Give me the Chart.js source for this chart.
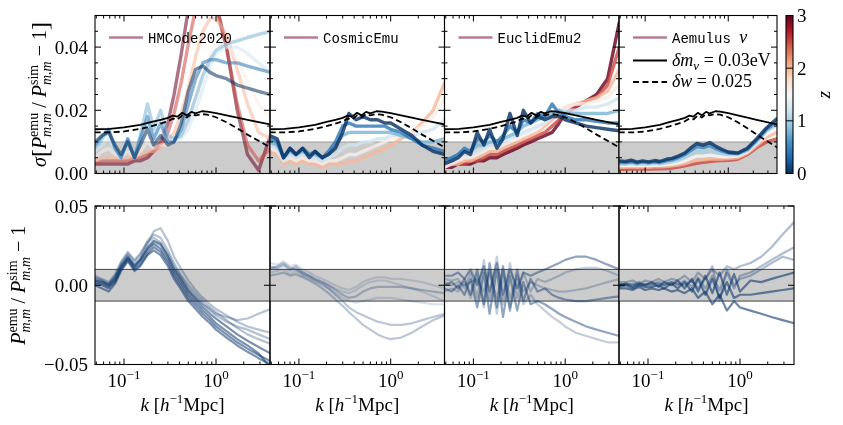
<!DOCTYPE html>
<html>
<head>
<meta charset="utf-8">
<script src="https://cdn.jsdelivr.net/npm/chart.js@4.4.0/dist/chart.umd.min.js"></script>
<style>
  body { margin: 0; background: #fff; }
  #wrap { position: relative; width: 843px; height: 425px; }
  #wrap canvas { position: absolute; left: 0; top: 0; }
</style>
</head>
<body>
<div id="wrap"></div>
<script>
// k grid shared by the emulator curves, and the grid of the two reference curves
const kGrid = [0.048, 0.058, 0.068, 0.08, 0.093, 0.11, 0.13, 0.15, 0.18, 0.21, 0.25, 0.3, 0.35, 0.42, 0.5, 0.6, 0.72, 0.86, 1.0, 1.3, 1.7, 2.2, 2.9, 3.9];
const kRef = [0.048, 0.07, 0.1, 0.15, 0.2, 0.25, 0.3, 0.34, 0.38, 0.43, 0.48, 0.54, 0.6, 0.7, 0.8, 1.0, 1.3, 1.7, 2.2, 3.0, 3.9];

// reference curves: delta m_nu = 0.03 eV (solid) and delta w = 0.025 (dashed)
const sigmaMnu = [0.0140, 0.0141, 0.0146, 0.0154, 0.0163, 0.0170, 0.0176, 0.0183, 0.0180, 0.0192, 0.0184, 0.0195, 0.0190, 0.0197, 0.0196, 0.0191, 0.0184, 0.0177, 0.0170, 0.0162, 0.0155];
const sigmaW = [0.0130, 0.0130, 0.0133, 0.0141, 0.0150, 0.0158, 0.0165, 0.0174, 0.0171, 0.0184, 0.0177, 0.0188, 0.0184, 0.0188, 0.0186, 0.0178, 0.0162, 0.0143, 0.0123, 0.0101, 0.0082];

// top row: sigma of the emulator error, one curve per redshift
const zHMCode = [0, 0.4, 0.8, 1.2, 1.6, 2.0, 2.5, 3.0];
const sigmaHMCode = [
  [0.010, 0.012, 0.013, 0.009, 0.006, 0.010, 0.005, 0.009, 0.014, 0.009, 0.012, 0.009, 0.010, 0.016, 0.026, 0.033, 0.034, 0.032, 0.031, 0.030, 0.028, 0.027, 0.026, 0.025],
  [0.009, 0.012, 0.014, 0.008, 0.005, 0.011, 0.005, 0.011, 0.018, 0.011, 0.016, 0.010, 0.010, 0.014, 0.022, 0.030, 0.035, 0.036, 0.036, 0.035, 0.035, 0.034, 0.033, 0.032],
  [0.008, 0.011, 0.014, 0.008, 0.005, 0.011, 0.005, 0.012, 0.022, 0.014, 0.020, 0.012, 0.011, 0.012, 0.017, 0.024, 0.031, 0.036, 0.039, 0.041, 0.042, 0.043, 0.044, 0.045],
  [0.007, 0.009, 0.011, 0.007, 0.005, 0.009, 0.005, 0.010, 0.016, 0.011, 0.014, 0.010, 0.010, 0.011, 0.014, 0.020, 0.027, 0.034, 0.038, 0.040, 0.040, 0.038, 0.035, 0.032],
  [0.005, 0.007, 0.008, 0.006, 0.005, 0.007, 0.005, 0.007, 0.010, 0.008, 0.009, 0.009, 0.010, 0.012, 0.017, 0.024, 0.032, 0.038, 0.041, 0.041, 0.036, 0.029, 0.022, 0.018],
  [0.004, 0.005, 0.005, 0.005, 0.005, 0.005, 0.005, 0.006, 0.007, 0.007, 0.008, 0.010, 0.013, 0.019, 0.027, 0.037, 0.045, 0.049, 0.049, 0.044, 0.033, 0.022, 0.013, 0.011],
  [0.003, 0.004, 0.004, 0.004, 0.004, 0.004, 0.005, 0.005, 0.006, 0.007, 0.009, 0.013, 0.019, 0.029, 0.041, 0.052, 0.057, 0.056, 0.052, 0.040, 0.022, 0.009, 0.004, 0.008],
  [0.003, 0.003, 0.003, 0.003, 0.003, 0.003, 0.004, 0.004, 0.005, 0.007, 0.010, 0.016, 0.025, 0.038, 0.052, 0.062, 0.064, 0.060, 0.054, 0.040, 0.020, 0.006, 0.001, 0.012]
];
const zCosmicEmu = [0, 0.4, 0.8, 1.2, 1.6, 2.0];
const sigmaCosmicEmu = [
  [0.012, 0.011, 0.005, 0.008, 0.006, 0.008, 0.005, 0.007, 0.005, 0.006, 0.008, 0.013, 0.019, 0.017, 0.018, 0.017, 0.017, 0.016, 0.016, 0.014, 0.012, 0.009, 0.007, 0.006],
  [0.011, 0.010, 0.005, 0.008, 0.006, 0.008, 0.006, 0.007, 0.005, 0.007, 0.010, 0.015, 0.016, 0.015, 0.015, 0.015, 0.015, 0.015, 0.014, 0.013, 0.011, 0.009, 0.008, 0.007],
  [0.010, 0.009, 0.005, 0.007, 0.006, 0.007, 0.006, 0.006, 0.005, 0.006, 0.009, 0.012, 0.013, 0.013, 0.013, 0.013, 0.013, 0.013, 0.013, 0.012, 0.011, 0.010, 0.010, 0.011],
  [0.009, 0.008, 0.004, 0.006, 0.005, 0.006, 0.005, 0.005, 0.004, 0.005, 0.006, 0.008, 0.009, 0.009, 0.010, 0.010, 0.011, 0.011, 0.012, 0.012, 0.012, 0.013, 0.014, 0.017],
  [0.008, 0.007, 0.004, 0.005, 0.004, 0.005, 0.004, 0.004, 0.003, 0.004, 0.004, 0.005, 0.006, 0.006, 0.007, 0.008, 0.009, 0.010, 0.011, 0.012, 0.013, 0.015, 0.018, 0.024],
  [0.007, 0.006, 0.003, 0.004, 0.003, 0.004, 0.003, 0.003, 0.002, 0.003, 0.003, 0.003, 0.004, 0.004, 0.005, 0.006, 0.007, 0.008, 0.009, 0.011, 0.013, 0.016, 0.020, 0.029]
];
const zEuclidEmu2 = [0, 0.4, 0.8, 1.2, 1.6, 2.0, 2.5, 3.0];
const sigmaEuclidEmu2 = [
  [0.003, 0.004, 0.005, 0.007, 0.006, 0.013, 0.009, 0.014, 0.008, 0.011, 0.019, 0.012, 0.020, 0.016, 0.018, 0.017, 0.018, 0.018, 0.017, 0.016, 0.015, 0.0145, 0.014, 0.0135],
  [0.004, 0.005, 0.006, 0.008, 0.007, 0.011, 0.010, 0.012, 0.010, 0.012, 0.015, 0.013, 0.017, 0.016, 0.019, 0.018, 0.022, 0.019, 0.018, 0.017, 0.017, 0.0165, 0.016, 0.016],
  [0.004, 0.005, 0.006, 0.007, 0.007, 0.009, 0.009, 0.010, 0.010, 0.011, 0.012, 0.013, 0.015, 0.016, 0.017, 0.018, 0.019, 0.020, 0.019, 0.019, 0.019, 0.019, 0.019, 0.020],
  [0.003, 0.004, 0.005, 0.006, 0.006, 0.007, 0.008, 0.009, 0.009, 0.010, 0.011, 0.012, 0.013, 0.014, 0.015, 0.016, 0.018, 0.019, 0.020, 0.020, 0.021, 0.021, 0.022, 0.024],
  [0.002, 0.003, 0.004, 0.005, 0.005, 0.006, 0.007, 0.008, 0.008, 0.009, 0.010, 0.011, 0.012, 0.013, 0.014, 0.016, 0.018, 0.020, 0.021, 0.022, 0.022, 0.023, 0.024, 0.028],
  [0.002, 0.003, 0.003, 0.004, 0.004, 0.005, 0.006, 0.007, 0.007, 0.008, 0.009, 0.010, 0.011, 0.012, 0.013, 0.015, 0.017, 0.019, 0.021, 0.022, 0.023, 0.024, 0.026, 0.033],
  [0.002, 0.003, 0.003, 0.003, 0.004, 0.004, 0.005, 0.006, 0.006, 0.007, 0.008, 0.009, 0.010, 0.011, 0.012, 0.013, 0.015, 0.017, 0.019, 0.021, 0.023, 0.024, 0.028, 0.040],
  [0.002, 0.002, 0.003, 0.003, 0.003, 0.004, 0.004, 0.005, 0.005, 0.006, 0.007, 0.008, 0.009, 0.010, 0.011, 0.012, 0.013, 0.016, 0.019, 0.021, 0.023, 0.025, 0.030, 0.048]
];
const zAemulus = [0, 0.5, 1.0, 1.5, 2.0, 2.5];
const sigmaAemulus = [
  [0.0040, 0.0038, 0.0042, 0.0036, 0.0040, 0.0037, 0.0041, 0.0038, 0.0045, 0.0048, 0.0055, 0.0065, 0.0080, 0.0095, 0.0090, 0.0098, 0.0085, 0.0075, 0.0068, 0.0065, 0.0080, 0.0110, 0.0145, 0.0175],
  [0.0035, 0.0034, 0.0037, 0.0033, 0.0036, 0.0034, 0.0037, 0.0035, 0.0040, 0.0043, 0.0050, 0.0060, 0.0072, 0.0085, 0.0082, 0.0088, 0.0078, 0.0070, 0.0065, 0.0063, 0.0076, 0.0105, 0.0140, 0.0165],
  [0.0030, 0.0030, 0.0032, 0.0029, 0.0031, 0.0030, 0.0032, 0.0031, 0.0034, 0.0037, 0.0042, 0.0050, 0.0060, 0.0070, 0.0068, 0.0072, 0.0066, 0.0062, 0.0060, 0.0060, 0.0072, 0.0100, 0.0135, 0.0155],
  [0.0025, 0.0025, 0.0026, 0.0025, 0.0026, 0.0025, 0.0026, 0.0026, 0.0028, 0.0030, 0.0034, 0.0040, 0.0048, 0.0055, 0.0055, 0.0058, 0.0055, 0.0053, 0.0053, 0.0055, 0.0068, 0.0095, 0.0125, 0.0145],
  [0.0020, 0.0020, 0.0021, 0.0020, 0.0021, 0.0020, 0.0021, 0.0021, 0.0022, 0.0024, 0.0027, 0.0031, 0.0036, 0.0042, 0.0043, 0.0046, 0.0046, 0.0046, 0.0047, 0.0050, 0.0064, 0.0088, 0.0115, 0.0130],
  [0.0013, 0.0013, 0.0014, 0.0014, 0.0014, 0.0014, 0.0015, 0.0015, 0.0016, 0.0017, 0.0020, 0.0024, 0.0028, 0.0032, 0.0035, 0.0038, 0.0040, 0.0041, 0.0042, 0.0045, 0.0060, 0.0082, 0.0100, 0.0110]
];

// bottom row: individual residuals P_emu / P_sim - 1
const residHMCode = [
  [0.003, 0.002, 0.000, 0.004, 0.012, 0.018, 0.012, 0.016, 0.024, 0.028, 0.026, 0.018, 0.010, 0.003, -0.004, -0.009, -0.014, -0.018, -0.021, -0.026, -0.031, -0.035, -0.039, -0.043],
  [0.005, 0.003, 0.001, 0.006, 0.014, 0.020, 0.015, 0.019, 0.028, 0.032, 0.030, 0.022, 0.014, 0.006, 0.000, -0.005, -0.010, -0.014, -0.017, -0.022, -0.027, -0.031, -0.034, -0.037],
  [0.001, 0.000, -0.002, 0.002, 0.010, 0.016, 0.010, 0.013, 0.020, 0.024, 0.021, 0.014, 0.006, -0.001, -0.008, -0.013, -0.018, -0.022, -0.026, -0.031, -0.036, -0.040, -0.044, -0.048],
  [0.004, 0.003, 0.000, 0.005, 0.013, 0.019, 0.013, 0.017, 0.026, 0.034, 0.036, 0.028, 0.018, 0.010, 0.003, -0.003, -0.008, -0.012, -0.015, -0.019, -0.023, -0.026, -0.028, -0.030],
  [0.002, 0.001, -0.001, 0.003, 0.011, 0.017, 0.011, 0.015, 0.022, 0.026, 0.023, 0.016, 0.008, 0.001, -0.006, -0.011, -0.016, -0.020, -0.024, -0.029, -0.034, -0.038, -0.043, -0.052],
  [0.006, 0.004, 0.002, 0.007, 0.015, 0.021, 0.016, 0.020, 0.027, 0.030, 0.027, 0.020, 0.012, 0.005, -0.002, -0.007, -0.012, -0.016, -0.019, -0.023, -0.026, -0.028, -0.031, -0.034],
  [0.000, -0.002, -0.004, 0.001, 0.009, 0.015, 0.009, 0.012, 0.019, 0.022, 0.019, 0.012, 0.004, -0.003, -0.010, -0.015, -0.020, -0.024, -0.028, -0.033, -0.038, -0.042, -0.046, -0.050],
  [0.003, 0.002, 0.001, 0.005, 0.012, 0.017, 0.013, 0.016, 0.023, 0.027, 0.025, 0.019, 0.011, 0.004, -0.003, -0.008, -0.012, -0.015, -0.018, -0.020, -0.022, -0.021, -0.018, -0.015]
];
const residCosmicEmu = [
  [0.012, 0.011, 0.013, 0.010, 0.012, 0.008, 0.006, 0.004, 0.002, 0.000, -0.003, -0.006, -0.008, -0.007, -0.004, -0.002, -0.001, -0.001, -0.001, -0.001, -0.002, -0.003, -0.004, -0.005],
  [0.008, 0.009, 0.010, 0.007, 0.009, 0.006, 0.004, 0.002, 0.000, -0.002, -0.005, -0.008, -0.010, -0.011, -0.010, -0.009, -0.008, -0.008, -0.008, -0.009, -0.010, -0.011, -0.012, -0.012],
  [0.010, 0.012, 0.014, 0.011, 0.010, 0.007, 0.005, 0.003, 0.001, -0.002, -0.006, -0.010, -0.014, -0.017, -0.019, -0.021, -0.023, -0.024, -0.025, -0.025, -0.024, -0.022, -0.020, -0.018],
  [0.014, 0.013, 0.015, 0.012, 0.013, 0.010, 0.008, 0.006, 0.004, 0.002, 0.000, -0.002, -0.003, -0.001, 0.002, 0.004, 0.005, 0.005, 0.004, 0.004, 0.003, 0.002, 0.000, -0.002],
  [0.006, 0.007, 0.008, 0.006, 0.007, 0.005, 0.003, 0.001, -0.002, -0.005, -0.009, -0.013, -0.017, -0.021, -0.025, -0.028, -0.031, -0.033, -0.034, -0.033, -0.030, -0.026, -0.022, -0.019],
  [0.011, 0.010, 0.012, 0.009, 0.011, 0.008, 0.006, 0.004, 0.002, 0.000, -0.002, -0.004, -0.005, -0.003, 0.000, 0.002, 0.003, 0.003, 0.002, 0.000, -0.002, -0.004, -0.007, -0.010]
];
const residEuclidEmu2 = [
  [0.000, 0.002, -0.002, 0.004, -0.006, 0.010, -0.012, 0.014, -0.014, 0.012, -0.016, 0.010, -0.010, 0.004, -0.004, -0.002, -0.006, -0.008, -0.009, -0.010, -0.010, -0.009, -0.008, -0.007],
  [0.004, 0.003, 0.004, -0.002, 0.008, -0.008, 0.016, -0.010, 0.018, -0.012, 0.014, -0.008, 0.008, -0.004, 0.004, 0.002, 0.004, 0.006, 0.008, 0.010, 0.011, 0.011, 0.009, 0.006],
  [-0.002, -0.004, 0.000, -0.006, 0.004, -0.014, 0.008, -0.018, 0.010, -0.020, 0.006, -0.016, 0.002, -0.012, -0.010, -0.012, -0.015, -0.018, -0.020, -0.023, -0.026, -0.028, -0.030, -0.032],
  [0.002, 0.000, 0.002, 0.000, 0.002, 0.004, -0.004, 0.008, -0.008, 0.010, -0.008, 0.006, -0.004, 0.002, 0.000, -0.002, -0.003, -0.004, -0.004, -0.003, -0.002, 0.000, 0.002, 0.004],
  [0.006, 0.006, 0.008, 0.004, 0.010, 0.000, 0.012, -0.004, 0.014, -0.006, 0.010, -0.002, 0.008, 0.006, 0.008, 0.010, 0.012, 0.014, 0.016, 0.018, 0.018, 0.016, 0.013, 0.010],
  [-0.004, -0.002, -0.004, 0.002, -0.008, 0.006, -0.014, 0.010, -0.018, 0.006, -0.014, 0.004, -0.012, -0.006, -0.012, -0.016, -0.020, -0.023, -0.026, -0.030, -0.032, -0.034, -0.036, -0.036]
];
const residAemulus = [
  [0.000, 0.001, -0.001, 0.001, 0.000, 0.002, -0.001, 0.002, 0.000, 0.003, -0.002, 0.004, -0.004, 0.006, -0.005, 0.008, -0.006, 0.007, -0.004, 0.003, 0.002, 0.004, 0.006, 0.008],
  [0.002, 0.002, 0.003, 0.001, 0.003, 0.002, 0.004, 0.002, 0.004, 0.003, 0.006, 0.002, 0.008, 0.004, 0.010, 0.006, 0.012, 0.010, 0.012, 0.014, 0.018, 0.024, 0.032, 0.040],
  [-0.002, -0.002, -0.003, -0.001, -0.003, -0.002, -0.003, -0.002, -0.004, -0.003, -0.005, -0.002, -0.008, -0.004, -0.012, -0.006, -0.016, -0.010, -0.014, -0.016, -0.018, -0.020, -0.022, -0.024],
  [0.001, 0.000, 0.001, 0.000, 0.001, 0.000, 0.002, 0.000, 0.002, 0.000, 0.003, -0.001, 0.005, -0.002, 0.006, -0.003, 0.008, -0.002, 0.006, 0.008, 0.012, 0.016, 0.020, 0.024],
  [-0.001, 0.000, -0.002, 0.000, -0.001, -0.001, 0.000, -0.002, 0.001, -0.002, 0.002, -0.004, 0.004, -0.006, 0.004, -0.008, 0.002, -0.008, -0.006, -0.006, -0.005, -0.004, -0.003, -0.002],
  [0.000, 0.001, 0.000, 0.002, 0.000, 0.001, 0.001, 0.000, 0.002, 0.001, 0.000, 0.003, -0.002, 0.004, 0.012, -0.010, 0.010, 0.000, 0.004, 0.006, 0.010, 0.014, 0.018, 0.016]
];

// ticks
const kMin = 0.0484, kMax = 3.86;
const xMajor = [0.1, 1];
const xMajorExp = ['−1', '0'];
const xMinor = [0.05, 0.06, 0.07, 0.08, 0.09, 0.2, 0.3, 0.4, 0.5, 0.6, 0.7, 0.8, 0.9, 2, 3];
const sigmaMajor = [0, 0.02, 0.04];
const sigmaLabels = ['0.00', '0.02', '0.04'];
const sigmaMinor = [0.005, 0.01, 0.015, 0.025, 0.03, 0.035, 0.045];
const residMajor = [-0.05, 0, 0.05];
const residLabels = ['−0.05', '0.00', '0.05'];
const zTicks = [0, 1, 2, 3];

const W = 843, H = 425;
const wrap = document.getElementById('wrap');
const SERIF = '"Liberation Serif", "Times New Roman", serif';
const MONO = '"Liberation Mono", "Courier New", monospace';
const rm = s => s + 'px ' + SERIF;
const it = s => 'italic ' + s + 'px ' + SERIF;
const tt = s => s + 'px ' + MONO;

// RdBu_r
const RDBU_R = [[5,48,97],[33,102,172],[67,147,195],[146,197,222],[209,229,240],[247,247,247],[253,219,199],[244,165,130],[214,96,77],[178,24,43],[103,0,31]];
function cmap(t, a) {
  t = Math.max(0, Math.min(1, t)) * 10;
  const i = Math.min(9, Math.floor(t)), f = t - i;
  const c = RDBU_R[i].map((v, j) => Math.round(v + (RDBU_R[i + 1][j] - v) * f));
  return 'rgba(' + c[0] + ',' + c[1] + ',' + c[2] + ',' + a + ')';
}

// text made of pieces (for super/subscripts)
function partWidth(ctx, p) {
  ctx.font = p.f;
  if (p.sup !== undefined) {
    const w1 = ctx.measureText(p.sup).width;
    ctx.font = p.fs || p.f;
    return Math.max(w1, ctx.measureText(p.sub).width);
  }
  return ctx.measureText(p.t).width;
}
function drawRich(ctx, parts, x, y, align) {
  const ws = parts.map(p => partWidth(ctx, p));
  const total = ws.reduce((s, v) => s + v, 0);
  let cx = align === 'center' ? x - total / 2 : align === 'right' ? x - total : x;
  ctx.textAlign = 'left';
  ctx.textBaseline = 'alphabetic';
  parts.forEach((p, i) => {
    ctx.font = p.f;
    if (p.sup !== undefined) {
      ctx.fillText(p.sup, cx, y - 8);
      ctx.font = p.fs || p.f;
      ctx.fillText(p.sub, cx, y + 5);
    } else {
      ctx.fillText(p.t, cx, y + (p.dy || 0));
    }
    cx += ws[i];
  });
}

const kLabel = [{t: 'k', f: it(19)}, {t: ' [', f: rm(19)}, {t: 'h', f: it(19)}, {t: '−1', f: rm(13), dy: -8}, {t: 'Mpc]', f: rm(19)}];
const sigmaTitle = [{t: 'σ', f: it(20)}, {t: '[', f: rm(24), dy: 2}, {t: 'P', f: it(20)}, {sup: 'emu', sub: 'm,m', f: rm(14), fs: it(14)},
  {t: ' / ', f: rm(20)}, {t: 'P', f: it(20)}, {sup: 'sim', sub: 'm,m', f: rm(14), fs: it(14)}, {t: ' − 1', f: rm(20)}, {t: ']', f: rm(24), dy: 2}];
const residTitle = [{t: 'P', f: it(20)}, {sup: 'emu', sub: 'm,m', f: rm(14), fs: it(14)},
  {t: ' / ', f: rm(20)}, {t: 'P', f: it(20)}, {sup: 'sim', sub: 'm,m', f: rm(14), fs: it(14)}, {t: ' − 1', f: rm(20)}];

const framePlugin = {
  id: 'frame',
  beforeDatasetsDraw(chart, args, o) {
    if (!o.band) return;
    const {ctx, chartArea: a} = chart;
    const y = chart.scales.y;
    const yt = y.getPixelForValue(o.band[1]), yb = y.getPixelForValue(o.band[0]);
    ctx.save();
    ctx.fillStyle = '#cccccc';
    ctx.fillRect(a.left, yt, a.right - a.left, yb - yt);
    ctx.strokeStyle = o.bandEdge;
    ctx.lineWidth = 1;
    ctx.beginPath();
    [yt, yb].forEach(p => {
      if (p > a.top + 1 && p < a.bottom - 1) { ctx.moveTo(a.left, p); ctx.lineTo(a.right, p); }
    });
    ctx.stroke();
    ctx.restore();
  },
  afterDatasetsDraw(chart, args, o) {
    const {ctx, chartArea: a} = chart;
    const x = chart.scales.x, y = chart.scales.y;
    ctx.save();
    ctx.strokeStyle = '#000';
    ctx.lineWidth = 1;
    ctx.beginPath();
    const tickX = (v, len) => {
      const p = x.getPixelForValue(v);
      ctx.moveTo(p, a.bottom); ctx.lineTo(p, a.bottom - len);
      ctx.moveTo(p, a.top); ctx.lineTo(p, a.top + len);
    };
    const tickY = (v, len) => {
      const p = y.getPixelForValue(v);
      ctx.moveTo(a.left, p); ctx.lineTo(a.left + len, p);
      ctx.moveTo(a.right, p); ctx.lineTo(a.right - len, p);
    };
    xMajor.forEach(v => tickX(v, 6));
    xMinor.forEach(v => tickX(v, 3));
    o.yMajor.forEach(v => tickY(v, 6));
    (o.yMinor || []).forEach(v => tickY(v, 3));
    ctx.stroke();
    ctx.lineWidth = 1.1;
    ctx.strokeRect(a.left, a.top, a.right - a.left, a.bottom - a.top);

    ctx.fillStyle = '#000';
    if (o.xLabels) {
      xMajor.forEach((v, i) => drawRich(ctx, [{t: '10', f: rm(19)}, {t: xMajorExp[i], f: rm(13), dy: -8}], x.getPixelForValue(v), 387, 'center'));
      drawRich(ctx, kLabel, (a.left + a.right) / 2, 411, 'center');
    }
    if (o.yLabels) {
      o.yMajor.forEach((v, i) => drawRich(ctx, [{t: o.yLabels[i], f: rm(19)}], a.left - 7, y.getPixelForValue(v) + 6.5, 'right'));
    }
    if (o.yTitle) {
      ctx.save();
      ctx.translate(o.yTitle.x, (a.top + a.bottom) / 2);
      ctx.rotate(-Math.PI / 2);
      drawRich(ctx, o.yTitle.parts, 0, 0, 'center');
      ctx.restore();
    }
    if (o.legend) {
      o.legend.forEach((item, i) => {
        const lx = a.left + 14, ly = o.legendY[i];
        ctx.beginPath();
        ctx.strokeStyle = item.color;
        ctx.lineWidth = item.width;
        ctx.setLineDash(item.dash || []);
        ctx.moveTo(lx, ly); ctx.lineTo(lx + 34, ly);
        ctx.stroke();
        ctx.setLineDash([]);
        drawRich(ctx, item.parts, lx + 39, ly + 5, 'left');
      });
    }
    ctx.restore();
  }
};

function newCanvas() {
  const c = document.createElement('canvas');
  c.width = W; c.height = H;
  c.style.width = W + 'px'; c.style.height = H + 'px';
  wrap.appendChild(c);
  return c;
}

function curve(xs, ys, color, width, dash) {
  return {
    data: xs.map((x, i) => ({x: x, y: ys[i]})),
    borderColor: color, borderWidth: width, borderDash: dash || [],
    pointRadius: 0, fill: false, tension: 0, clip: 0, borderJoinStyle: 'round'
  };
}

function makePanel(rect, datasets, yRange, opts) {
  return new Chart(newCanvas(), {
    type: 'line',
    data: {datasets: datasets},
    options: {
      responsive: false, animation: false, events: [],
      layout: {padding: {left: rect[0], top: rect[1], right: W - rect[2], bottom: H - rect[3]}},
      scales: {
        x: {type: 'logarithmic', min: kMin, max: kMax, display: false},
        y: {type: 'linear', min: yRange[0], max: yRange[1], display: false}
      },
      plugins: {legend: {display: false}, tooltip: {enabled: false}, frame: opts}
    },
    plugins: [framePlugin]
  });
}

const topRects = [[95, 15.5, 270, 173.5], [270, 15.5, 444.5, 173.5], [444.5, 15.5, 619, 173.5], [619, 15.5, 777, 173.5]];
const botRects = [[95, 206, 270, 364.5], [270, 206, 444.5, 364.5], [444.5, 206, 619, 364.5], [619, 206, 794, 364.5]];

const modelColor = 'rgba(103,0,31,0.5)';
const nameFont = tt(14);
const legendSets = [
  [{color: modelColor, width: 2.5, parts: [{t: 'HMCode2020', f: nameFont}]}],
  [{color: modelColor, width: 2.5, parts: [{t: 'CosmicEmu', f: nameFont}]}],
  [{color: modelColor, width: 2.5, parts: [{t: 'EuclidEmu2', f: nameFont}]}],
  [{color: modelColor, width: 2.5, parts: [{t: 'Aemulus ', f: nameFont}, {t: 'ν', f: it(18)}]},
   {color: '#000', width: 1.8, parts: [{t: 'δm', f: it(18)}, {t: 'ν', f: it(13), dy: 4}, {t: ' = 0.03eV', f: rm(18)}]},
   {color: '#000', width: 1.8, dash: [6, 3.5], parts: [{t: 'δw', f: it(18)}, {t: ' = 0.025', f: rm(18)}]}]
];

const topZ = [zHMCode, zCosmicEmu, zEuclidEmu2, zAemulus];
const topSigma = [sigmaHMCode, sigmaCosmicEmu, sigmaEuclidEmu2, sigmaAemulus];
const topAlpha = [0.55, 0.8, 0.8, 0.8];
const botResid = [residHMCode, residCosmicEmu, residEuclidEmu2, residAemulus];
const residAlpha = [0.55, 0.28, 0.45, 0.6];

topRects.forEach((r, p) => {
  const sets = [curve(kRef, sigmaMnu, '#000', 1.8), curve(kRef, sigmaW, '#000', 1.8, [6, 3.5])];
  topSigma[p].forEach((row, i) => sets.push(curve(kGrid, row, cmap(topZ[p][i] / 3, topAlpha[p]), 3.4)));
  makePanel(r, sets, [0, 0.05], {
    band: [0, 0.01], bandEdge: 'rgba(0,0,0,0.3)',
    yMajor: sigmaMajor, yMinor: sigmaMinor,
    yLabels: p === 0 ? sigmaLabels : null,
    yTitle: p === 0 ? {x: 46, parts: sigmaTitle} : null,
    legend: legendSets[p], legendY: [37.5, 60.5, 82]
  });
});

botRects.forEach((r, p) => {
  const sets = botResid[p].map((row, i) => curve(kGrid, row, 'rgba(12,55,110,' + (i % 2 ? residAlpha[p] * 0.55 : residAlpha[p]) + ')', 2.2));
  makePanel(r, sets, [-0.05, 0.05], {
    band: [-0.01, 0.01], bandEdge: 'rgba(0,0,0,0.7)',
    yMajor: residMajor, xLabels: true,
    yLabels: p === 0 ? residLabels : null,
    yTitle: p === 0 ? {x: 25, parts: residTitle} : null
  });
});

// colour bar for z
const cbarRect = [786, 15.5, 793, 173.5];
const cbarPlugin = {
  id: 'cbar',
  beforeDatasetsDraw(chart) {
    const {ctx, chartArea: a} = chart;
    const y = chart.scales.y;
    const y0 = y.getPixelForValue(zTicks[0]), y1 = y.getPixelForValue(zTicks[zTicks.length - 1]);
    const g = ctx.createLinearGradient(0, y0, 0, y1);
    RDBU_R.forEach((c, i) => g.addColorStop(i / 10, 'rgb(' + c.join(',') + ')'));
    ctx.save();
    ctx.fillStyle = g;
    ctx.fillRect(a.left, y1, a.right - a.left, y0 - y1);
    ctx.strokeStyle = '#000';
    ctx.lineWidth = 1;
    ctx.beginPath();
    zTicks.forEach(v => { const p = y.getPixelForValue(v); ctx.moveTo(a.right, p); ctx.lineTo(a.left, p); });
    ctx.stroke();
    ctx.lineWidth = 1.1;
    ctx.strokeRect(a.left, a.top, a.right - a.left, a.bottom - a.top);
    ctx.fillStyle = '#000';
    zTicks.forEach(v => drawRich(ctx, [{t: String(v), f: rm(19)}], a.right + 4, y.getPixelForValue(v) + 6.5, 'left'));
    ctx.translate(826, (a.top + a.bottom) / 2);
    ctx.rotate(-Math.PI / 2);
    drawRich(ctx, [{t: 'z', f: it(19)}], 0, 4, 'center');
    ctx.restore();
  }
};
new Chart(newCanvas(), {
  type: 'line',
  data: {datasets: []},
  options: {
    responsive: false, animation: false, events: [],
    layout: {padding: {left: cbarRect[0], top: cbarRect[1], right: W - cbarRect[2], bottom: H - cbarRect[3]}},
    scales: {
      x: {type: 'linear', min: 0, max: 1, display: false},
      y: {type: 'linear', min: 0, max: 3, display: false}
    },
    plugins: {legend: {display: false}, tooltip: {enabled: false}}
  },
  plugins: [cbarPlugin]
});
</script>
</body>
</html>
